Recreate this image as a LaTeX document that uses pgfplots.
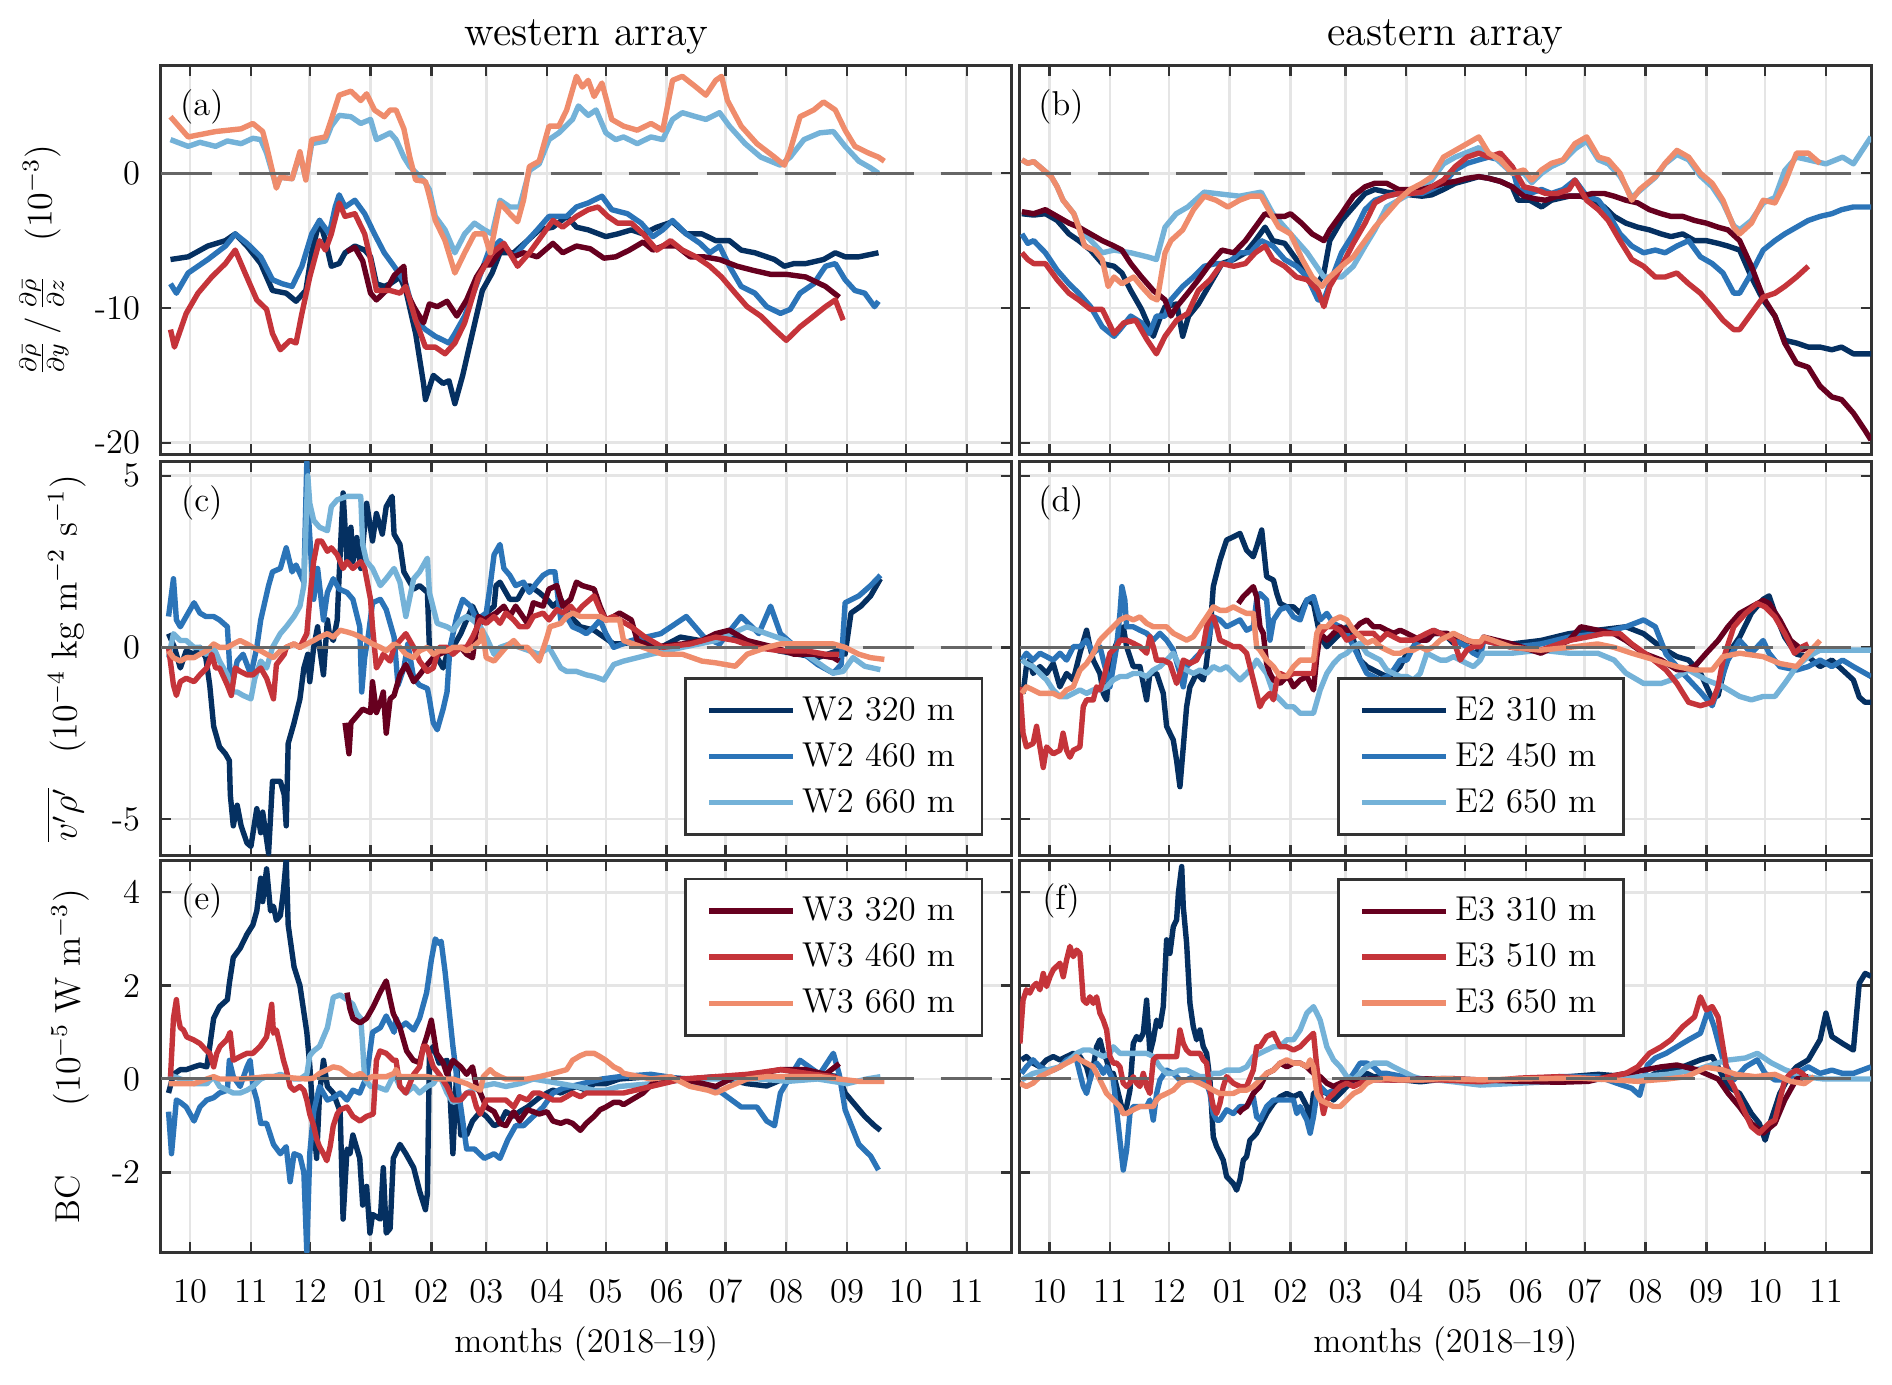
\documentclass[border=0pt]{standalone}
\usepackage{pgfplots}
\pgfplotsset{compat=1.18}
\definecolor{cA}{HTML}{053061}
\definecolor{cB}{HTML}{2B74B8}
\definecolor{cC}{HTML}{74B2D8}
\definecolor{cD}{HTML}{67001F}
\definecolor{cE}{HTML}{C5343A}
\definecolor{cF}{HTML}{EF8C6C}
\newcommand{\fs}{\fontsize{11.5}{14}\selectfont}
\newcommand{\ft}{\fontsize{14}{17}\selectfont}
\pgfplotsset{
  panel/.style={scale only axis, width=283.7pt, xmin=-15, xmax=419,
    xtick={0,31,61,92,123,151,182,212,243,273,304,335,365,396},
    xticklabels={},
    grid=major, major grid style={line width=0.9pt, color=black!10},
    axis line style={line width=1pt, draw=black!80},
    tick style={line width=0.8pt, color=black!80},
    major tick length=3.5pt,
    tick label style={font=\fs},
    label style={font=\fs},
    title style={font=\ft, anchor=base, yshift=0.6pt},
    xticklabel style={anchor=base, yshift=-16.7pt},
    yticklabel style={anchor=east, inner sep=0pt, xshift=-6.7pt},
    xlabel style={at={(axis description cs:0.5,0)}, anchor=base, yshift=-33.3pt},
    legend cell align=left,
    legend image code/.code={\draw[##1] (0pt,0pt) -- (28pt,0pt);},
    legend style={anchor=center, draw=black!80, line width=0.9pt, fill=white, font=\fs,
      inner xsep=7pt, inner ysep=4pt, row sep=2pt,
      /tikz/every even column/.append style={column sep=6pt}},
  },
  rowA/.style={height=129.77pt, ymin=-20.91, ymax=7.99, ytick={-20,-10,0}},
  rowC/.style={height=131.1pt, ymin=-6.05, ymax=5.41, ytick={-5,0,5}},
  rowE/.style={height=130.9pt, ymin=-3.72, ymax=4.69, ytick={-2,0,2,4}},
  sA/.style={color=cA, line width=1.8pt, line join=round},
  sB/.style={color=cB, line width=1.8pt, line join=round},
  sC/.style={color=cC, line width=1.8pt, line join=round},
  sD/.style={color=cD, line width=1.8pt, line join=round},
  sE/.style={color=cE, line width=1.8pt, line join=round},
  sF/.style={color=cF, line width=1.8pt, line join=round},
  zl/.style={forget plot, color=black!60, line width=1pt, dash pattern=on 17pt off 9pt},
}
\begin{document}
\begin{tikzpicture}
\useasboundingbox (0pt,0pt) rectangle (630.67pt,461.33pt);
%% (a)
\begin{axis}[panel, rowA, at={(53.57pt,309.67pt)}, anchor=south west,
  yticklabels={-20,-10,0}, title={western array},
  ylabel={$\frac{\partial\bar{\rho}}{\partial y}\,\big/\,\frac{\partial\bar{\rho}}{\partial z}$\quad$(10^{-3})$},
  ylabel style={at={(axis description cs:-0.1371,0.5)}, anchor=center}]
\addplot[sA] coordinates {(-10,-6.4) (-1,-6.2) (9,-5.4) (18,-5.0) (23,-4.5) (29,-5.4) (36,-6.7) (42,-8.7) (49,-8.9) (54,-9.5) (59,-8.7) (62,-5.9) (66,-3.5) (69,-5.0) (72,-6.9) (76,-6.7) (79,-5.9) (84,-5.4) (89,-5.7) (92,-6.2) (95,-8.2) (99,-8.4) (102,-8.2) (107,-7.7) (110,-8.7) (115,-11.9) (119,-15.6) (120,-16.8) (124,-15.0) (129,-15.6) (132,-15.4) (135,-17.1) (139,-15.0) (142,-13.1) (149,-8.7) (154,-7.4) (158,-5.9) (165,-5.9) (172,-5.0) (178,-4.2) (185,-4.0) (192,-3.2) (197,-4.0) (203,-4.2) (212,-4.7) (218,-4.5) (225,-4.2) (231,-4.5) (238,-4.0) (246,-3.6) (253,-4.5) (261,-4.5) (268,-5.0) (275,-5.0) (281,-5.7) (288,-5.9) (298,-6.4) (303,-6.9) (308,-6.7) (314,-6.7) (323,-6.4) (329,-5.9) (334,-6.2) (341,-6.2) (351,-5.9)};
\addplot[sB] coordinates {(-10,-8.2) (-7,-8.9) (-1,-7.4) (9,-6.4) (18,-5.4) (23,-4.5) (29,-5.2) (36,-6.2) (42,-7.9) (47,-8.2) (52,-8.4) (57,-6.9) (62,-4.5) (66,-3.5) (71,-4.5) (74,-2.5) (76,-1.6) (79,-2.5) (84,-2.0) (89,-3.0) (94,-4.5) (99,-5.9) (104,-6.9) (110,-8.2) (115,-10.9) (120,-11.6) (125,-12.1) (132,-12.6) (135,-11.9) (140,-10.6) (147,-7.9) (152,-5.9) (158,-5.0) (165,-6.2) (172,-5.0) (177,-4.2) (183,-3.2) (192,-3.2) (197,-2.5) (203,-2.2) (210,-1.7) (215,-2.7) (223,-3.0) (230,-3.7) (236,-4.7) (241,-4.2) (246,-3.5) (253,-4.5) (260,-5.2) (265,-5.9) (270,-5.4) (275,-6.9) (281,-8.4) (288,-8.9) (294,-9.9) (301,-10.4) (306,-10.1) (311,-8.9) (318,-8.2) (324,-6.9) (329,-6.7) (334,-7.9) (339,-8.7) (344,-8.9) (349,-9.9) (351,-9.5)};
\addplot[sC] coordinates {(-10,2.5) (-1,2.0) (5,2.3) (13,2.0) (19,2.4) (26,2.2) (32,2.6) (36,2.5) (39,1.5) (44,-1.0) (46,-0.3) (52,-0.4) (56,1.4) (59,-0.4) (62,2.2) (69,2.4) (72,3.5) (76,4.3) (82,4.2) (87,3.7) (92,4.0) (95,2.5) (102,3.0) (105,2.5) (109,1.2) (112,0.5) (119,-0.5) (122,-1.2) (125,-3.2) (130,-4.2) (135,-5.9) (140,-4.5) (145,-3.7) (150,-4.2) (154,-4.5) (158,-2.0) (163,-2.5) (168,-2.5) (173,0.2) (178,0.7) (183,2.5) (188,3.0) (195,4.0) (198,5.0) (203,4.3) (207,4.7) (212,3.0) (217,2.5) (221,2.7) (228,2.2) (235,2.7) (241,2.5) (246,4.0) (251,4.5) (258,4.2) (263,4.0) (270,4.5) (275,3.5) (283,2.2) (291,1.2) (301,0.6) (306,1.2) (313,2.5) (321,3.0) (328,3.1) (334,2.0) (341,0.9) (347,0.4) (351,0)};
\addplot[sD] coordinates {(80,-5.8) (84,-5.5) (88,-6.5) (92,-8.9) (95,-9.4) (100,-8.7) (104,-7.6) (109,-6.9) (110,-8.7) (114,-9.9) (119,-11.1) (122,-9.7) (126,-9.9) (131,-9.5) (136,-10.6) (141,-9.4) (146,-7.7) (150,-6.8) (153,-6.8) (156,-6.2) (160,-5.4) (165,-6.2) (170,-5.9) (177,-6.2) (185,-5.2) (190,-5.9) (197,-5.4) (204,-5.6) (211,-6.3) (217,-6.2) (224,-5.7) (231,-5.1) (236,-5.7) (241,-5.4) (248,-5.4) (255,-6.2) (262,-6.2) (270,-6.4) (279,-6.9) (287,-7.2) (296,-7.5) (304,-7.5) (314,-7.7) (324,-8.4) (331,-9.2)};
\addplot[sE] coordinates {(-10,-11.6) (-8,-12.9) (-2,-10.4) (4,-8.9) (11,-7.7) (18,-6.7) (23,-5.7) (28,-7.4) (34,-9.4) (39,-10.1) (42,-11.9) (46,-13.1) (51,-12.4) (54,-12.6) (57,-10.4) (61,-7.7) (66,-5.0) (69,-5.7) (72,-4.5) (76,-2.2) (79,-3.2) (84,-3.0) (89,-4.5) (92,-6.4) (95,-8.7) (102,-8.7) (107,-8.9) (110,-8.4) (115,-10.9) (120,-12.9) (125,-12.9) (130,-13.4) (135,-12.6) (140,-11.1) (147,-7.7) (154,-5.9) (160,-5.2) (167,-6.9) (173,-5.9) (180,-4.5) (185,-3.5) (190,-4.0) (197,-3.2) (203,-2.7) (208,-2.5) (213,-3.2) (218,-3.7) (225,-3.7) (231,-4.5) (238,-5.7) (245,-5.0) (251,-5.7) (258,-6.2) (265,-6.9) (271,-7.7) (278,-8.9) (284,-9.9) (291,-10.6) (298,-11.6) (304,-12.4) (311,-11.4) (318,-10.6) (324,-9.9) (329,-9.4) (333,-10.9)};
\addplot[sF] coordinates {(-10,4.2) (-1,2.7) (13,3.1) (26,3.3) (32,3.7) (37,3.1) (39,2.0) (44,-1.1) (46,-0.3) (52,-0.4) (56,1.6) (59,-0.5) (62,2.5) (69,2.7) (72,4.0) (76,5.8) (82,6.1) (87,5.4) (90,5.9) (94,4.7) (99,4.2) (102,4.7) (105,4.7) (109,3.3) (112,1.2) (115,-0.5) (120,-0.6) (122,-1.7) (125,-3.5) (130,-5.0) (135,-7.4) (140,-5.9) (145,-4.5) (150,-4.5) (153,-5.9) (158,-2.2) (163,-3.0) (167,-3.6) (170,-2.0) (173,0.5) (178,0.9) (183,3.5) (188,3.5) (192,4.7) (197,7.2) (200,6.4) (203,6.9) (206,5.7) (210,6.7) (215,4.0) (221,3.5) (228,3.2) (235,3.7) (241,3.2) (246,6.9) (251,7.2) (258,6.4) (263,5.8) (268,6.9) (271,7.2) (274,5.4) (281,3.5) (289,2.2) (298,1.2) (303,0.6) (306,1.7) (311,4.2) (318,4.7) (323,5.3) (329,4.7) (334,3.2) (339,2.0) (346,1.5) (351,1.2) (354,0.9)};
\addplot[zl] coordinates {(-15,0) (419,0)};
\node[font=\fs, xshift=13.7pt, yshift=-13.7pt] at (rel axis cs:0,1) {(a)};
\end{axis}
%% (b)
\begin{axis}[panel, rowA, at={(339.97pt,309.67pt)}, anchor=south west,
  yticklabels={}, title={eastern array}]
\addplot[sA] coordinates {(-14,-3.0) (-8,-3.1) (-2,-3.0) (4,-3.5) (10,-4.5) (15,-5.0) (21,-5.7) (27,-6.7) (33,-6.9) (37,-7.4) (41.5,-8.7) (47,-10.1) (50,-11.1) (53,-12.1) (56,-10.9) (59,-9.9) (65,-9.7) (68,-12.1) (71,-10.6) (76,-9.7) (82,-8.2) (88,-6.7) (94,-6.4) (100,-5.9) (105,-5.0) (110,-4.0) (114,-5.0) (120,-5.2) (126,-6.4) (131.5,-7.7) (136,-8.4) (140,-7.4) (143,-5.0) (149,-3.5) (155,-2.5) (161,-1.5) (166,-1.2) (172,-1.4) (178,-1.5) (184,-1.6) (190,-1.7) (195,-1.6) (201,-1.2) (207,-0.74) (213,-0.5) (219,-0.25) (224,-0.37) (230,-0.6) (236,-1.0) (239,-2.0) (245,-2.0) (251,-2.5) (256,-2.0) (265,-1.7) (271,-1.7) (277,-2.0) (283,-2.5) (288,-3.2) (294,-3.7) (300,-4.0) (306,-4.2) (312,-4.5) (317,-4.7) (323,-4.5) (329,-5.0) (335,-5.0) (341,-5.2) (346,-5.4) (352,-5.7) (358,-7.7) (364,-9.4) (370,-10.6) (375,-12.4) (381,-12.6) (387,-12.9) (393,-12.9) (399,-13.1) (404,-12.9) (410,-13.4) (419,-13.4)};
\addplot[sB] coordinates {(-14,-4.5) (-11,-5.2) (-8,-5.0) (-2,-5.9) (4,-7.2) (10,-8.2) (15,-8.9) (21,-9.9) (27,-11.4) (33,-12.1) (36,-11.6) (41.5,-10.6) (47,-11.1) (51,-11.9) (54.6,-10.6) (59,-10.6) (62,-9.4) (68,-8.4) (73.5,-7.7) (79,-6.9) (85,-6.7) (91,-6.7) (97,-5.9) (102.5,-5.9) (108,-5.0) (114,-5.4) (120,-6.4) (126,-6.9) (131.5,-7.7) (137,-9.4) (140,-9.4) (143,-8.2) (149,-5.9) (155,-4.5) (161,-2.7) (166,-2.0) (172,-1.7) (178,-1.5) (184,-1.5) (190,-1.5) (195,-1.2) (201,-0.74) (207,0.25) (213,0.74) (219,1.0) (224,1.2) (230,1.0) (236,0.5) (239,-1.2) (245,-1.5) (251,-1.2) (256,-1.5) (262,-1.2) (268,-0.5) (274,-1.7) (280,-2.0) (285,-3.0) (291,-4.5) (297,-5.4) (303,-5.9) (309,-5.7) (314,-5.9) (320,-5.4) (326,-5.0) (332,-6.2) (338,-6.7) (343.5,-7.4) (349,-8.9) (352,-8.9) (358,-7.4) (364,-5.7) (370,-5.0) (375,-4.5) (381,-4.0) (387,-3.5) (393,-3.2) (399,-3.0) (404,-2.7) (410,-2.5) (419,-2.5)};
\addplot[sC] coordinates {(-14,1.0) (-11,0.74) (-8,0.87) (-5,0.5) (1,-0.25) (4,-1.0) (7,-2.0) (12.5,-3.0) (15,-4.0) (18,-4.5) (27,-5.9) (33,-5.7) (41.5,-5.9) (50,-6.2) (54.6,-6.4) (59,-4.0) (64.7,-3.0) (70.6,-2.5) (79,-1.4) (85,-1.5) (97,-1.7) (108,-1.4) (114,-3.0) (123,-4.5) (131.5,-5.9) (140,-7.7) (149,-7.7) (155,-6.9) (161,-5.4) (166,-4.2) (172,-2.5) (178,-2.0) (184,-1.5) (190,-1.0) (195,-0.5) (201,0.7) (207,1.2) (219,1.9) (227,1.2) (236,0) (242,0) (246,-0.7) (251,0) (256,0.5) (262,0.9) (268,1.8) (274,2.4) (280,1.0) (285,0.7) (291,-0.2) (297,-1.8) (301,-1.3) (309,-0.3) (314,0.7) (320,1.4) (326,1.0) (332,-0.2) (338,-1.0) (343.5,-2.2) (349,-3.9) (352,-4.2) (358,-3.5) (364,-2.2) (370,-1.8) (375,0.2) (381,1.2) (387,1.0) (396,0.7) (404.5,1.2) (410,0.7) (419,2.7)};
\addplot[sD] coordinates {(-14,-2.85) (-8,-3.0) (-2,-2.7) (4,-3.2) (10,-3.7) (15,-4.0) (21,-4.5) (27,-5.0) (33,-5.4) (37,-5.7) (41.5,-6.7) (47,-7.7) (53,-8.7) (59,-9.4) (62,-10.6) (65,-9.9) (70.6,-8.9) (76,-7.9) (82,-6.7) (88,-5.7) (94,-5.9) (100,-5.0) (105,-4.0) (110,-3.0) (114,-3.2) (120,-3.2) (123,-3.0) (128.6,-3.7) (134,-4.5) (140,-5.0) (143,-4.2) (149,-3.0) (155,-1.7) (161,-1.0) (166,-0.74) (172,-0.74) (178,-1.2) (184,-1.2) (190,-1.2) (195,-1.0) (201,-0.74) (207,-0.6) (213,-0.37) (219,-0.25) (224,-0.37) (230,-0.6) (236,-1.0) (242,-1.7) (248,-1.9) (253,-2.0) (259,-1.7) (265,-1.7) (271,-1.7) (277,-1.5) (283,-1.5) (288,-1.7) (294,-2.0) (300,-2.2) (306,-2.7) (312,-3.0) (317,-3.2) (323,-3.2) (329,-3.5) (335,-3.7) (341,-4.0) (346,-4.2) (352,-5.0) (358,-6.9) (364,-9.2) (370,-10.6) (375,-12.6) (381,-14.1) (387,-14.4) (393,-15.8) (399,-16.6) (404,-16.8) (410,-17.8) (416,-19.1) (419,-19.8)};
\addplot[sE] coordinates {(-14,-5.9) (-11,-6.4) (-8,-6.7) (-2,-6.7) (4,-7.9) (10,-8.9) (15,-9.4) (21,-10.1) (27,-10.1) (33,-11.9) (38,-11.1) (44,-10.9) (50,-12.4) (54.6,-13.4) (59,-12.1) (65,-10.9) (70.6,-10.4) (76,-8.7) (82,-7.9) (88,-6.7) (94,-6.9) (100,-6.7) (105,-5.9) (110,-5.4) (114,-6.4) (120,-6.9) (126,-7.7) (131.5,-7.9) (137,-8.7) (140,-9.9) (143,-8.4) (149,-6.9) (155,-5.2) (161,-3.7) (166,-2.2) (172,-1.7) (178,-1.5) (184,-1.5) (190,-1.4) (195,-1.0) (201,-0.5) (207,0.5) (213,1.2) (219,1.5) (224,1.2) (230,1.5) (236,0.5) (242,-1.0) (248,-1.2) (253,-1.5) (259,-1.5) (265,-1.2) (268,-0.5) (274,-2.0) (280,-2.7) (285,-3.5) (291,-5.0) (297,-6.4) (303,-6.9) (309,-7.7) (314,-7.7) (320,-7.4) (326,-8.2) (332,-8.9) (338,-9.9) (343.5,-10.9) (349,-11.6) (352,-11.6) (358,-10.4) (364,-9.2) (370,-8.9) (375,-8.4) (381,-7.7) (387,-6.9)};
\addplot[sF] coordinates {(-14,1.0) (-11,0.74) (-8,0.87) (-5,0.5) (1,-0.25) (4,-1.0) (7,-2.0) (12.5,-3.0) (15,-4.0) (18,-5.4) (23,-5.7) (27,-6.4) (30,-8.4) (33,-7.7) (37,-8.2) (43,-7.7) (47,-8.4) (52,-9.2) (55,-9.4) (59,-5.9) (62,-5.0) (68,-4.2) (73.5,-2.7) (79,-1.7) (85,-2.0) (91,-2.5) (97,-2.0) (102.5,-1.7) (108,-1.7) (111,-2.5) (117,-4.0) (123,-4.5) (129,-6.4) (134,-7.7) (139,-8.4) (143,-7.7) (149,-6.9) (155,-6.2) (161,-5.0) (166,-4.0) (172,-3.0) (178,-2.0) (184,-1.2) (190,-0.74) (195,-0.25) (201,1.2) (207,1.7) (213,2.2) (219,2.7) (224,1.5) (230,1.0) (236,0) (242,0.25) (246,-0.5) (251,0.25) (256,0.74) (262,1.0) (268,2.2) (274,2.7) (280,1.2) (285,1.0) (291,0) (297,-2.0) (301,-1.2) (309,-0.25) (314,0.74) (320,1.7) (326,1.2) (332,0) (338,-0.74) (343.5,-2.0) (349,-4.0) (352,-4.5) (358,-3.7) (364,-2.0) (370,-2.2) (375,-0.74) (381,1.5) (387,1.5) (393,0.74)};
\addplot[zl] coordinates {(-15,0) (419,0)};
\node[font=\fs, xshift=13.7pt, yshift=-13.7pt] at (rel axis cs:0,1) {(b)};
\end{axis}
%% (c)
\begin{axis}[panel, rowC, at={(53.57pt,176.33pt)}, anchor=south west,
  yticklabels={-5,0,5},
  ylabel={$\overline{v'\rho'}$\quad$(10^{-4}\ \mathrm{kg}\ \mathrm{m}^{-2}\ \mathrm{s}^{-1})$},
  ylabel style={at={(axis description cs:-0.111,0.5)}, anchor=center},
  legend style={at={(axis description cs:0.791,0.25)}}]
\addplot[sA] coordinates {(-11,0.4) (-8,0) (-5,-0.6) (-2,-0.1) (2,-0.2) (5,0) (8,-0.3) (10,-1.1) (12,-2.3) (14,-2.7) (15,-2.9) (18,-3.1) (20,-3.3) (20.5,-4.3) (22,-5.2) (24,-4.6) (26,-5.2) (29,-5.7) (31,-5.8) (34,-4.7) (36,-5.4) (37,-4.8) (40,-6.0) (42,-3.9) (46,-3.9) (48,-4.3) (49,-5.2) (50,-2.8) (53,-2.2) (56,-1.5) (58,-0.6) (60,-0.2) (61,-1.0) (63,0) (65,0.6) (66,0) (68,-0.8) (70,0.8) (71,0.4) (73,0.2) (75,0.8) (76,2.1) (78,4.5) (80,2.5) (82,3.5) (83,2.5) (85,3.2) (87,2.3) (90,4.2) (93,3.1) (95,3.9) (98,3.3) (100,4.1) (103,4.4) (104,3.3) (107,3.0) (109,2.2) (110,2.1) (114,1.7) (117,1.8) (121,1.6) (122,0) (126,-0.3) (129,-0.6) (131,-0.2) (134,0) (138,0.4) (141,0.8) (144,1.2) (148,0.7) (151,1.0) (155,1.2) (156,1.8) (158,1.9) (161,1.6) (163,1.4) (167,1.4) (170,1.7) (173,1.8) (178,1.6) (182,1.4) (185,1.2) (189,1.4) (194,0.9) (199,0.6) (206,0.5) (211,0.3) (216,0.1) (220,0.1) (230,0.2) (240,0) (250,0.3) (260,0.2) (270,0.4) (280,0.2) (290,0.1) (300,-0.1) (310,-0.2) (320,-0.3) (330,-0.1) (334,-0.2) (337,1.0) (342,1.2) (347,1.5) (352,2.0)};
\addplot[sB] coordinates {(-11,0.9) (-8.5,2.0) (-7,0.8) (-5,0.6) (-2,0.9) (2,1.3) (5,1.0) (8,0.9) (12,0.9) (15,0.8) (19,0.6) (20,-0.4) (21,-1.2) (24,-0.4) (27,-0.2) (31,-0.8) (34,0) (36,0.8) (40,1.8) (42,2.2) (46,2.3) (49,2.9) (52,2.2) (54,2.4) (58,1.9) (59.5,5.4) (60.5,3.7) (63,1.4) (65,2.3) (68,0.8) (70,1.6) (73,2.0) (76,1.7) (80,1.6) (83,1.4) (86.5,0.6) (87.5,-1.3) (89,-0.3) (91,0.4) (93,1.3) (97,1.4) (100,1.1) (104,0.3) (106,-1.1) (109,-0.6) (111,0.1) (114,-0.9) (117,-1.1) (121,-1.2) (122,-1.5) (124,-2.2) (126,-2.4) (129,-1.8) (131,-1.3) (132.5,0) (136,0.9) (139,1.4) (143,1.2) (146,0.8) (151,1.0) (153,1.8) (155,2.7) (158,3.0) (160,2.3) (163,2.1) (166,1.8) (170,1.9) (173,1.6) (177,1.9) (180,2.1) (183,2.2) (186,2.2) (189,0.8) (192,0.9) (195,0.6) (199,0.5) (202,0.4) (206,0.6) (209,0.8) (212,0.4) (216,0) (225,0.2) (240,0.4) (253,0.9) (262,0.3) (270,0.1) (281,0.9) (290,0.4) (296,1.2) (301,0.4) (311,-0.1) (320,-0.5) (328,-0.75) (332,-0.5) (334,1.3) (341,1.5) (347,1.8) (352,2.1)};
\addplot[sC] coordinates {(-11,-0.3) (-8.5,0.4) (-5,0.2) (-2,0.2) (2,0) (5,0) (8,-0.2) (12,0) (15,-0.4) (19,-0.8) (21,-1.3) (24,-1.3) (27,-1.4) (31,-1.5) (33,-0.9) (36,-0.4) (39,-0.6) (42,0) (46,0.4) (49,0.6) (53,0.9) (56,1.2) (58,1.8) (60,5.0) (61,4.2) (63,3.7) (66,3.5) (70,3.4) (72,4.1) (75,4.3) (80,4.4) (83,4.4) (87,4.4) (88,3.0) (90,2.5) (93,2.3) (97,1.8) (100,2.0) (104,2.3) (107,1.9) (110,0.9) (114,2.0) (117,2.2) (121,2.6) (122,1.6) (126,0.7) (131,0.6) (134,0.5) (138,0.8) (141,0.9) (144,0.8) (148,0.6) (151,0.3) (155,-0.2) (158,0) (163,0.1) (168,0) (173,-0.1) (178,-0.2) (183,0) (187,-0.4) (189,-0.6) (192,-0.7) (197,-0.7) (202,-0.8) (206,-0.85) (211,-0.95) (216,-0.5) (221,-0.4) (235,-0.2) (251,0) (268,0.2) (284,0.6) (294,0.4) (304,0.2) (314,-0.2) (324,-0.6) (328,-0.75) (333,-0.7) (338,-0.3) (344,-0.55) (352,-0.65)};
\addplot[sD, forget plot] coordinates {(79,-2.2) (81,-3.1) (82,-2.2) (85,-2.0) (88,-1.8) (92,-1.9) (93,-1.0) (95,-1.9) (97,-1.6) (98.5,-1.3) (100,-2.5) (102,-1.5) (104,-1.4) (105,-1.2) (107,-0.8) (110,-0.5) (114,-1.0) (117,-0.8) (121,-0.5) (124,-0.3) (127,-0.2) (131,-0.1) (134,-0.1) (138,0) (141,-0.2) (144,-0.3) (147,0.9) (150,0.8) (153,0.9) (156,1.0) (160,1.2) (163,0.9) (166,1.2) (172,0.7) (175,1.3) (180,1.2) (183,1.7) (187,1.8) (190,1.2) (194,1.4) (197,1.9) (200,1.8) (206,1.7) (209,1.2) (212,0.8) (216,0.9) (219,1.0) (225,0.8) (228,0.2) (235,0) (251,0.1) (261,0.2) (268,0.4) (275,0.5) (284,0.2) (298,0) (308,-0.2) (318,-0.2) (328,-0.3) (331,-0.4)};
\addplot[sE, forget plot] coordinates {(-11,0) (-8.5,-1.1) (-7,-1.4) (-5,-1.0) (-2,-0.9) (2,-1.0) (5,-0.8) (8.5,-0.6) (11,-0.2) (13,-0.6) (15,-0.6) (19,-1.1) (21,-1.4) (23,-0.6) (25.5,-0.7) (29,-0.8) (32,-0.8) (36,-0.6) (39,-0.9) (42.5,-1.5) (44,-0.5) (48,-0.2) (49,0) (53,0.1) (56,0) (59.5,0.4) (61,1.4) (63,2.5) (65,3.1) (67,3.1) (70,2.8) (72,2.9) (75,2.7) (78,2.3) (80,2.5) (83,2.3) (87,2.5) (89,2.3) (92,1.4) (93,0.6) (95,-0.6) (97,-0.4) (98.5,-0.2) (102,-0.4) (104,0) (107,0.2) (110,0.4) (114,0) (117,-0.4) (121,-0.7) (124,-0.6) (127,0) (131,0) (134,-0.2) (138,0) (141,0) (144,0.3) (148,0.8) (151,0.7) (155,0.9) (158,0.7) (161,1.0) (165,0.8) (168,0.6) (172,0.6) (175,0.9) (180,1.0) (183,0.8) (187,1.1) (190,1.0) (194,1.2) (197,1.0) (200,1.2) (204,1.4) (206,1.5) (209,1.1) (212,0.8) (216,0.9) (219,0.8) (225,0.6) (232,0.3) (241,0) (255,0.1) (268,0.3) (278,0.2) (288,0) (301,-0.1) (314,-0.1) (324,-0.2) (331,-0.2)};
\addplot[sF, forget plot] coordinates {(-11,-0.1) (-8.5,-0.3) (-5,-0.4) (-2,-0.3) (2,-0.3) (5,-0.2) (8.5,-0.1) (12,0.1) (15,0) (19,0) (22,0.1) (25.5,0.2) (29,0.1) (32,0) (36,-0.1) (39,-0.2) (42.5,-0.3) (46,-0.1) (49,0) (53,0.1) (56,0) (59.5,0.1) (63,0.2) (66,0.3) (70,0.4) (73,0.3) (76.5,0.5) (80,0.45) (83,0.4) (87,0.3) (90,0.2) (93,0.1) (97,0) (100,-0.1) (104,0.1) (107,0) (110,-0.2) (114,-0.3) (117,-0.1) (121,0) (124,-0.2) (127,-0.1) (131,-0.1) (134,0) (138,0) (141,-0.1) (144,0) (148,0.2) (149,0.5) (151,-0.3) (155,-0.4) (158,-0.2) (161,0) (165,0.2) (168,0) (172,0) (175,-0.2) (178,-0.4) (182,0.3) (183.5,0.6) (189,0.7) (192,0.9) (195,1.0) (199,0.9) (202,0.9) (206,0.9) (209,0.9) (212,0.8) (216,0.8) (219,0.8) (221,0.2) (231,0) (241,-0.2) (251,-0.2) (261,-0.4) (268,-0.45) (278,-0.55) (284,-0.2) (294,0) (301,0.1) (314,0.1) (328,0.1) (334,0) (341,-0.2) (347,-0.3) (354,-0.35)};
\addplot[zl] coordinates {(-15,0) (419,0)};
\node[font=\fs, xshift=13.7pt, yshift=-13.7pt] at (rel axis cs:0,1) {(c)};
\legend{W2 320 m, W2 460 m, W2 660 m}
\end{axis}
%% (d)
\begin{axis}[panel, rowC, at={(339.97pt,176.33pt)}, anchor=south west,
  yticklabels={},
  legend style={at={(axis description cs:0.5417,0.25)}}]
\addplot[sA] coordinates {(-13.4,-1.34) (-11.7,-0.56) (-10,-0.37) (-8.3,-0.76) (-4.8,-0.56) (-1.4,-0.76) (2,-0.47) (5.4,-1.15) (8.8,-0.76) (12.2,-0.95) (15.6,-0.17) (19,0.5) (20.7,0.02) (22.4,-0.37) (25.8,-0.76) (27.5,-1.34) (29.2,-1.53) (30.9,-0.37) (34.3,0.12) (37.7,0.6) (39.4,0.02) (42.8,-0.56) (46.2,-0.56) (49.6,-1.53) (51.3,-0.76) (54.7,-0.76) (58.1,-1.34) (59.8,-2.3) (63.2,-2.7) (64.9,-3.3) (66.6,-4.06) (68.3,-2.9) (70,-1.73) (71.7,-1.15) (75.1,-0.76) (78.5,-0.95) (79.9,-0.56) (81.9,0.41) (83.6,1.77) (87,2.54) (90.4,3.13) (93.8,3.22) (97.2,3.32) (100.6,2.83) (104,2.64) (105.7,2.93) (108.3,3.42) (110.8,2.06) (114.3,1.96) (116,1.57) (117.7,1.28) (121.1,1.18) (124.5,1.18) (127.9,0.99) (131.3,1.38) (134.7,1.28) (138.1,0.31) (141.5,0.02) (144.9,0.21) (148.3,0.41) (151.7,0.6) (155.1,0.21) (158.5,-0.37) (161.9,-0.56) (165.3,-0.66) (168.7,-0.76) (172.1,-0.85) (175.5,-0.76) (178.9,-0.56) (182.3,-0.17) (185.7,0.02) (189.1,0.31) (192.5,0.21) (195.9,0.41) (199.3,0.41) (202.7,0.31) (206.1,0.12) (209.5,0.21) (212.9,0.02) (216.3,-0.17) (219.7,-0.08) (221.5,0.2) (236,0.1) (250.6,0.2) (265,0.4) (279.6,0.5) (294,0.6) (303,0.4) (312,0) (320,-0.27) (326,-0.37) (332,-0.75) (338,-1.5) (341,-1.4) (346,-0.2) (352,0.3) (358,1.0) (364,1.4) (367,1.5) (370,1.0) (375,0.3) (381,-0.2) (387,-0.27) (393,-0.56) (399,-0.37) (404.5,-0.66) (410,-0.95) (413,-1.45) (416,-1.6) (419,-1.6)};
\addplot[sB] coordinates {(-14,-0.37) (-11.7,-0.17) (-8.3,-0.37) (-4.8,-0.17) (-1.4,-0.27) (2,-0.37) (5.4,-0.17) (8.8,-0.37) (12.2,0.02) (15.6,0.02) (19,0.21) (20.7,0.02) (22.4,-0.17) (25.8,0.02) (29.2,-0.76) (30.9,-1.15) (34.3,0.02) (36,0.99) (37,1.77) (38.5,1.38) (39.4,0.6) (42.8,0.6) (46.2,0.5) (49.6,0.41) (53,0.21) (56.4,0.41) (59.8,0.21) (63.2,-0.08) (66.6,-0.76) (68.3,-1.15) (70,-0.56) (73.4,-0.37) (76.8,-0.17) (80.2,0.02) (83.6,0.89) (87,0.8) (90.4,0.6) (93.8,0.7) (97.2,0.8) (100.6,0.5) (104,0.6) (105.7,1.38) (107.4,1.57) (110.8,1.38) (112.5,0.21) (114.3,0.8) (117.7,1.1) (121.1,1.18) (124.5,0.89) (127.9,0.8) (131.3,1.38) (134.7,1.48) (138.1,0.8) (141.5,0.99) (144.9,0.7) (148.3,0.6) (151.7,0.41) (155.1,0.02) (158.5,-0.37) (161.9,-0.76) (165.3,-0.85) (168.7,-0.95) (172.1,-0.85) (175.5,-0.66) (178.9,-0.37) (182.3,-0.37) (185.7,0.02) (189.1,0.21) (192.5,0.31) (195.9,0.5) (199.3,0.41) (202.7,0.31) (206.1,0.31) (209.5,0.12) (212.9,0.02) (216.3,-0.17) (219.7,-0.27) (221.5,0.2) (236,0) (250.6,0.1) (265,0.3) (279.6,0.4) (294,0.6) (303,0.8) (309,0.6) (314.5,-0.2) (323,-0.75) (332,-1.3) (338,-1.7) (341,-1.2) (346,-0.37) (352,0.2) (358,-0.17) (364,0.2) (367,-0.17) (372.5,-0.56) (381,-0.66) (387,-0.56) (393,-0.37) (399,-0.56) (404.5,-0.37) (410,-0.56) (419,-0.85)};
\addplot[sC] coordinates {(-14,-0.37) (-11.7,-0.47) (-8.3,-0.56) (-4.8,-0.76) (-1.4,-0.95) (2,-1.24) (5.4,-1.44) (8.8,-1.44) (12.2,-1.34) (15.6,-1.24) (19,-1.34) (22.4,-1.24) (25.8,-1.24) (29.2,-1.15) (32.6,-0.95) (36,-0.85) (39.4,-0.85) (42.8,-0.76) (46.2,-0.76) (49.6,-0.85) (53,-0.66) (56.4,-0.56) (59.8,-0.37) (63.2,-0.17) (66.6,-0.56) (70,-0.66) (73.4,-0.76) (76.8,-0.66) (80.2,-0.76) (83.6,-0.56) (87,-0.66) (90.4,-0.56) (93.8,-0.76) (97.2,-0.95) (100.6,-0.76) (104,-0.56) (105.7,-0.37) (110.8,-0.76) (114.3,-1.34) (117.7,-1.53) (121.1,-1.73) (124.5,-1.73) (127.9,-1.92) (131.3,-1.92) (134.7,-1.92) (138.1,-1.24) (141.5,-0.76) (144.9,-0.47) (148.3,-0.27) (151.7,-0.17) (155.1,0.02) (158.5,0.12) (161.9,-0.17) (165.3,-0.27) (168.7,-0.37) (172.1,-0.66) (175.5,-0.76) (178.9,-0.85) (182.3,-0.85) (185.7,-0.95) (189.1,-0.76) (192.5,-0.17) (195.9,-0.27) (199.3,-0.37) (202.7,-0.37) (206.1,-0.27) (209.5,-0.37) (212.9,-0.47) (216.3,-0.56) (219.7,-0.37) (221.5,-0.17) (236,-0.17) (250.6,-0.08) (265,-0.17) (279.6,-0.17) (288,-0.37) (294,-0.75) (303,-1.05) (312,-1.05) (317,-0.95) (326,-0.66) (335,-0.95) (343.5,-1.14) (352,-1.43) (358,-1.53) (364,-1.43) (370,-1.43) (375,-1.05) (381,-0.56) (387,-0.27) (393,-0.08) (399,-0.08) (404.5,-0.08) (410,-0.08) (419,-0.08)};
\addplot[sD, forget plot] coordinates {(96.4,1.28) (98.9,1.48) (102.3,1.67) (104,1.77) (105.7,1.48) (107.4,0.6) (109.1,0.41) (110.8,-0.47) (112.5,-0.76) (114.3,-0.95) (117.7,-1.05) (121.1,-0.85) (122.8,-0.95) (124.5,-1.15) (127.9,-0.95) (131.3,-0.85) (134.7,-1.24) (136.4,-0.27) (138.1,0.41) (141.5,0.21) (144.9,0.41) (148.3,0.6) (151.7,0.5) (155.1,0.5) (158.5,0.7) (161.9,0.8) (165.3,0.6) (168.7,0.6) (172.1,0.5) (175.5,0.41) (178.9,0.5) (182.3,0.41) (185.7,0.31) (189.1,0.21) (192.5,0.21) (195.9,0.41) (199.3,0.41) (202.7,0.41) (206.1,0.31) (209.5,0.31) (212.9,0.21) (216.3,0.12) (219.7,0.02) (221.5,0.3) (236,0.1) (250.6,-0.17) (265,0.2) (271,0.6) (279.6,0.5) (288,0.4) (294,0.2) (303,-0.17) (312,-0.37) (320,-0.65) (323,-0.65) (329,-0.56) (335,-0.17) (341,0.2) (346,0.6) (352,0.99) (358,1.18) (364,1.37) (367,1.28) (372.5,0.8) (378,0.2) (384,-0.08) (387,0.02)};
\addplot[sE, forget plot] coordinates {(-15,-1.15) (-13.4,-2.5) (-11.7,-2.9) (-8.3,-2.8) (-6.5,-2.3) (-4.8,-2.9) (-3.1,-3.5) (-1.4,-2.9) (2,-3.1) (5.4,-3.0) (7,-2.5) (8.8,-3.0) (10.5,-3.2) (12.2,-3.0) (15.6,-2.9) (17.3,-1.73) (19,-1.53) (22.4,-1.53) (24.1,-1.15) (25.8,-1.24) (27.5,-0.95) (29.2,-0.56) (30.9,-0.17) (34.3,0.02) (36,0.21) (39.4,0.21) (42.8,0.12) (46.2,0.02) (49.6,-0.17) (51.3,0.31) (53,0.02) (54.7,-0.37) (58.1,-0.37) (61.5,-0.47) (64.9,-1.05) (66.6,-0.76) (68.3,-0.37) (71.7,-0.47) (75.1,-0.37) (78.5,0.02) (80.2,0.6) (81.9,0.89) (83.6,0.89) (85.3,0.6) (87,0.21) (90.4,0.12) (93.8,0.02) (97.2,0.02) (100.6,-0.17) (104,-0.95) (105.7,-1.34) (107.4,-1.73) (109.1,-1.53) (112.5,-1.34) (114.3,-1.53) (116,-0.95) (117.7,-0.76) (121.1,-0.85) (124.5,-0.76) (127.9,-0.76) (131.3,-0.76) (134.7,-0.76) (136.4,0.12) (138.1,0.41) (141.5,0.6) (144.9,0.6) (148.3,0.5) (151.7,0.21) (155.1,0.31) (158.5,0.41) (161.9,0.41) (165.3,0.41) (168.7,0.21) (172.1,0.41) (175.5,0.31) (178.9,0.21) (182.3,0.21) (185.7,0.21) (189.1,0.31) (192.5,0.41) (195.9,0.5) (199.3,0.41) (202.7,0.31) (206.1,0.21) (209.5,-0.37) (212.9,-0.08) (216.3,0.02) (219.7,0.02) (221.5,0.2) (236,0) (250.6,-0.08) (265,0.2) (274,0.3) (282.5,0.4) (291,0.4) (297,0.1) (306,-0.27) (314.5,-0.66) (320,-1.05) (326,-1.6) (332,-1.7) (338,-1.6) (341,-1.14) (343.5,-0.37) (349,0.6) (355,0.99) (361,1.28) (365,1.18) (370,0.89) (375,0.4) (380,-0.17) (384,0.02) (387,0.1)};
\addplot[sF, forget plot] coordinates {(-14,-1.34) (-11.7,-1.15) (-8.3,-1.24) (-4.8,-1.34) (-1.4,-1.34) (2,-1.34) (5.4,-1.44) (8.8,-1.24) (12.2,-1.15) (15.6,-0.66) (19,-0.47) (22.4,-0.17) (25.8,0.21) (29.2,0.41) (32.6,0.6) (36,0.8) (39.4,0.89) (42.8,0.8) (46.2,0.89) (49.6,0.7) (53,0.6) (56.4,0.6) (59.8,0.6) (63.2,0.41) (66.6,0.31) (70,0.21) (73.4,0.31) (76.8,0.6) (80.2,0.89) (83.6,1.18) (87,1.08) (90.4,1.08) (93.8,1.18) (97.2,1.08) (100.6,0.99) (104,0.99) (105.7,0.02) (107.4,-0.08) (110.8,-0.37) (114.3,-0.56) (117.7,-0.85) (121.1,-0.85) (124.5,-0.56) (127.9,-0.37) (131.3,-0.37) (134.7,-0.37) (136.4,0.41) (138.1,0.6) (141.5,0.6) (144.9,0.8) (148.3,0.89) (151.7,0.8) (155.1,0.5) (158.5,0.31) (161.9,0.12) (165.3,0.21) (168.7,0.02) (172.1,-0.08) (175.5,-0.17) (178.9,-0.17) (182.3,-0.08) (185.7,-0.08) (189.1,0.02) (192.5,-0.08) (195.9,0.02) (199.3,0.21) (202.7,0.31) (206.1,0.41) (209.5,0.31) (212.9,0.21) (216.3,0.16) (219.7,0.16) (221.5,0.3) (236,0) (250.6,-0.08) (265,0) (279.6,0.1) (288,0) (297,-0.17) (309,-0.37) (320,-0.56) (329,-0.66) (338,-0.66) (343.5,-0.27) (352,-0.17) (364,-0.27) (372.5,-0.47) (381,-0.56) (387,-0.17) (393,0.2)};
\addplot[zl] coordinates {(-15,0) (419,0)};
\node[font=\fs, xshift=13.7pt, yshift=-13.7pt] at (rel axis cs:0,1) {(d)};
\legend{E2 310 m, E2 450 m, E2 650 m}
\end{axis}
%% (e)
\begin{axis}[panel, rowE, at={(53.57pt,43.77pt)}, anchor=south west,
  yticklabels={-2,0,2,4},
  xticklabels={10,11,12,01,02,03,04,05,06,07,08,09,10,11},
  xlabel={months (2018--19)},
  ylabel={BC\qquad$(10^{-5}\;\mathrm{W}\;\mathrm{m}^{-3})$},
  ylabel style={at={(axis description cs:-0.1065,0.5)}, anchor=center},
  legend style={at={(axis description cs:0.791,0.7525)}}]
\addplot[sA, forget plot] coordinates {(-11,-0.3) (-8.5,0.1) (-5,0.2) (-2,0.2) (2,0.26) (5,0.3) (8.5,0.26) (10,0.7) (12,1.3) (15,1.55) (19,1.7) (20,2.05) (22,2.6) (25.5,2.8) (29,3.1) (32,3.3) (34,3.6) (36,4.3) (37,3.8) (39,4.5) (41,3.6) (42.5,3.7) (44,3.4) (46,3.5) (47.5,4.0) (49,4.7) (50,3.3) (53,2.4) (56,2.0) (59.5,1.0) (61,0.3) (63,-1.0) (64.5,-1.7) (66,-0.3) (68,0.4) (70,-0.16) (73,-0.3) (76.5,-0.7) (78,-3.0) (80,-1.5) (81.5,-1.6) (83,-1.2) (86.5,-1.7) (88,-2.7) (90,-2.3) (91.7,-3.3) (93,-2.9) (97,-3.0) (98.5,-1.9) (100,-3.3) (102,-3.2) (103.6,-1.7) (107,-1.4) (110,-1.6) (114,-1.9) (117,-2.4) (120,-2.8) (121,-2.45) (122,0.55) (124,0.7) (127,0.34) (131,0.4) (132.5,-0.3) (134,-1.6) (136,0.26) (138,-1.2) (141,-1.2) (144,-0.9) (148,-0.7) (151,-0.8) (155,-1.0) (158,-0.95) (161,-0.7) (165,-0.8) (168,-0.7) (172,-0.6) (175,-0.5) (178,-0.4) (182,-0.3) (185,-0.24) (189,-0.3) (192,-0.24) (197,-0.16) (202,-0.24) (206,-0.1) (212,-0.1) (219,0) (235,0.05) (255,0) (268,0.05) (284,-0.1) (294,-0.15) (308,0.1) (321,0.1) (331,0.05) (334,-0.3) (338,-0.5) (344,-0.8) (349,-1.0) (352,-1.1)};
\addplot[sB, forget plot] coordinates {(-11,-0.7) (-9.5,-1.6) (-7,-0.45) (-5,-0.5) (-2,-0.6) (2,-0.9) (5,-0.6) (8.5,-0.45) (12,-0.4) (15,-0.3) (19,-0.24) (20,0.4) (22,0.05) (25.5,-0.16) (29,0.26) (30.6,0.4) (32,-0.16) (34,-0.45) (36,-0.95) (39,-0.95) (42.5,-1.4) (46,-1.6) (49,-1.45) (51,-2.2) (53,-1.6) (56,-1.65) (58,-2.0) (59.5,-3.7) (61,-1.6) (63,-0.7) (66,-0.16) (70,-0.45) (73,-0.4) (76.5,-0.3) (80,-0.45) (83,-0.24) (86.5,-0.3) (90,0.05) (93,1.0) (97,1.1) (100,1.35) (104,1.0) (105,1.3) (107,1.1) (110,1.2) (114,1.05) (117,1.3) (120.6,1.85) (123,2.55) (125,3.0) (127,2.9) (128,2.95) (130,2.3) (132,1.5) (134,0.7) (137,-0.3) (141,-1.5) (145,-1.5) (150,-1.7) (155,-1.6) (158,-1.7) (162,-1.3) (166,-1.0) (170,-1.0) (175,-0.8) (180,-0.6) (185,-0.3) (190,-0.2) (200,-0.1) (210,0) (219,0.05) (235,0.1) (251,0) (268,-0.2) (281,-0.6) (289,-0.6) (294,-0.9) (298,-1.0) (301,-0.3) (311,0.4) (321,0.1) (328,0.55) (331,0.1) (334,-0.66) (341,-1.4) (347,-1.65) (351,-1.95)};
\addplot[sC, forget plot] coordinates {(-11,0.1) (-5,0) (2,-0.1) (8.5,-0.1) (12,0.05) (15,-0.16) (19,-0.24) (22,-0.3) (25.5,-0.3) (29,-0.24) (32,-0.16) (36,0) (39,0.05) (42.5,0.05) (46,0.1) (49,0.05) (53,0) (56,0) (59.5,0.1) (61,0.5) (63,0.6) (66,0.7) (70,1.1) (73,1.75) (76.5,1.8) (80,1.7) (83,1.6) (85,1.4) (87,1.3) (88,0.7) (89,0) (92,-0.16) (95,-0.16) (100,-0.24) (104,0.1) (107,-0.16) (110,-0.3) (114,-0.16) (117,-0.3) (121,-0.16) (124,-0.1) (127,0.1) (131,-0.3) (134,-0.5) (138,-0.45) (141,-0.3) (144,-0.24) (148,-0.16) (155,-0.1) (161,-0.16) (168,-0.1) (175,0) (189,-0.1) (197,-0.16) (206,-0.24) (212,-0.24) (219,-0.16) (235,-0.1) (255,0) (275,0) (290,0) (305,-0.05) (320,0) (335,-0.1) (345,0) (352,0.05)};
\addplot[sD] coordinates {(80,1.85) (81.5,1.5) (83,1.3) (86.6,1.2) (90,1.3) (93.4,1.55) (96.8,1.85) (100,2.1) (102,1.7) (103.6,1.4) (107,1.1) (108.7,0.85) (110.4,0.6) (113.8,0.4) (117,0.35) (119,0.7) (120.6,0.9) (123,1.26) (125.7,0.55) (129,0.35) (131,0.1) (134,0.4) (138,0.26) (141,0.1) (144,0.26) (146,-0.16) (148,-0.3) (151,-0.6) (155,-0.7) (158,-0.95) (161,-1.0) (165,-0.7) (168,-0.9) (172,-0.66) (175,-0.7) (178,-0.75) (182,-0.7) (185,-0.9) (189,-0.95) (192,-0.9) (195,-0.95) (199,-1.1) (202,-0.95) (206,-0.8) (209,-0.66) (212,-0.6) (216,-0.5) (219,-0.5) (221,-0.55) (231,-0.3) (238,0) (251,0) (268,-0.16) (278,0.05) (288,0.1) (301,0.2) (314,0.2) (324,0.1) (331,0.33)};
\addplot[sE] coordinates {(-10,0.05) (-8.5,1.3) (-7,1.7) (-6,1.3) (-5,1.1) (-3.4,1.05) (-1.7,0.9) (1.7,0.84) (5,0.76) (8.5,0.6) (10,0.55) (12,0.26) (13.6,0.55) (15.3,0.7) (18.7,0.84) (20.4,1.0) (22,0.4) (25.5,0.48) (29,0.55) (32,0.55) (35.7,0.7) (39,0.9) (41.6,1.6) (42.5,0.98) (44,1.05) (46,0.7) (47.6,0.4) (49,0.2) (51,-0.16) (53,-0.24) (56,-0.16) (58,-0.24) (59.5,-0.45) (61,-0.75) (63,-1.0) (64.6,-1.3) (66,-1.45) (68,-1.6) (69.7,-1.75) (71.4,-1.45) (73,-1.0) (75,-0.75) (76.5,-0.66) (80,-0.6) (83,-0.8) (86.6,-0.9) (90,-0.8) (93.4,-0.75) (95,0.4) (96.8,0.6) (100,0.55) (103.6,0.4) (105,0.4) (107,-0.16) (110,-0.3) (114,0.1) (117,0.26) (119,0.7) (120.6,0.7) (124,0.26) (127,0.1) (131,-0.16) (134,-0.45) (138,-0.45) (141,-0.3) (144,-0.3) (146,-0.6) (148,-0.75) (151,-0.45) (155,-0.45) (158,-0.45) (161,-0.45) (165,-0.6) (168,-0.38) (172,-0.45) (175,-0.3) (178,-0.3) (182,-0.38) (185,-0.45) (189,-0.45) (192,-0.38) (195,-0.3) (199,-0.38) (202,-0.3) (206,-0.3) (212,-0.3) (219,-0.3) (221,-0.3) (235,-0.16) (251,0) (268,0.05) (284,0.1) (301,0.2) (318,0.1) (328,0.05) (331,0)};
\addplot[sF] coordinates {(-11,-0.1) (-5,-0.1) (2,-0.1) (8.5,0) (12,0.05) (15,0) (19,0) (25.5,0) (32,0.02) (39,0.05) (46,0.05) (53,0.02) (59.5,0) (63,0.02) (66,0.12) (70,0.2) (73,0.26) (76.5,0.23) (80,0.12) (83,0.05) (87,0.12) (90,0) (93,0.05) (97,0.05) (100,0.05) (104,0.12) (105,0.2) (107,0.05) (114,0.05) (121,0.05) (127,0) (134,0) (141,-0.1) (144,-0.16) (148,-0.24) (149.5,0.05) (153,0.2) (155,0.12) (158,0.05) (161,0) (165,0) (172,0) (178,0.05) (185,0.12) (192,0.2) (195,0.4) (199,0.5) (202,0.55) (206,0.55) (209,0.48) (212,0.4) (216,0.26) (219,0.2) (221,0.12) (235,0) (245,0.05) (255,-0.16) (264,-0.24) (268,-0.3) (275,-0.16) (284,0) (294,0.05) (308,0.05) (321,0.05) (331,0) (341,-0.05) (354,-0.05)};
\addplot[zl] coordinates {(-15,0) (419,0)};
\node[font=\fs, xshift=13.7pt, yshift=-13.7pt] at (rel axis cs:0,1) {(e)};
\legend{W3 320 m, W3 460 m, W3 660 m}
\end{axis}
%% (f)
\begin{axis}[panel, rowE, at={(339.97pt,43.77pt)}, anchor=south west,
  yticklabels={},
  xticklabels={10,11,12,01,02,03,04,05,06,07,08,09,10,11},
  xlabel={months (2018--19)},
  legend style={at={(axis description cs:0.5417,0.7525)}}]
\addplot[sA, forget plot] coordinates {(-14.2,0.41) (-11.7,0.48) (-8.3,0.34) (-4.8,0.26) (-1.4,0.41) (2,0.48) (5.4,0.41) (8.8,0.48) (12.2,0.55) (15.6,0.48) (19,0.26) (20.7,-0.02) (22.4,0.26) (24.1,0.69) (25.8,0.84) (27.5,0.55) (29.2,0.41) (30.9,0.12) (32.6,0.12) (34.3,-0.16) (36,-0.45) (37.7,-0.74) (39.4,-0.59) (41.1,-0.24) (42.8,0.76) (44.5,0.91) (46.2,0.84) (47.9,0.98) (49.6,1.69) (51.3,0.55) (53,0.84) (54.7,1.26) (56.4,1.12) (58.1,1.55) (59.8,2.98) (61.5,2.69) (63.2,3.26) (64.9,3.41) (65.8,3.98) (67.5,4.55) (68.3,3.69) (70,2.91) (71.7,1.62) (73.4,1.12) (75.1,0.84) (76.8,1.05) (78.5,0.69) (80.2,0.55) (81.9,-0.02) (83.6,-1.24) (85.3,-1.45) (87,-1.59) (88.7,-1.74) (90.4,-2.09) (93.8,-2.24) (95.5,-2.38) (97.2,-2.16) (98.9,-1.74) (100.6,-1.66) (102.3,-1.31) (104,-1.24) (105.7,-1.16) (107.4,-1.02) (110.8,-0.74) (114.3,-0.52) (117.7,-0.38) (121.1,-0.31) (124.5,-0.38) (127.9,-0.31) (131.3,-0.59) (133,-0.95) (134.7,-0.31) (138.1,-0.24) (141.5,-0.31) (144.9,-0.45) (148.3,-0.31) (151.7,-0.16) (155.1,-0.02) (158.5,0.05) (161.9,0.12) (165.3,0.05) (168.7,0.05) (172.1,0.05) (180.6,-0.02) (189.1,-0.06) (197.6,-0.02) (206.1,-0.02) (219.7,-0.06) (230,-0.02) (250,0) (265,0.05) (280,0.1) (294,0.05) (303,-0.02) (309,0.12) (317,0.19) (323,0.26) (332,0.41) (338,0.48) (341,0.26) (346,-0.16) (352,-0.31) (358,-0.74) (362,-0.95) (365,-1.31) (368,-0.88) (372.5,-0.31) (378,0.12) (381,0.26) (387,0.41) (393,0.84) (396,1.41) (399,0.91) (404.5,0.76) (410,0.62) (413,2.05) (416,2.26) (419,2.2)};
\addplot[sB, forget plot] coordinates {(-14.2,0.12) (-11.7,0.26) (-8.3,0.41) (-4.8,0.26) (-1.4,0.19) (2,0.19) (5.4,0.26) (8.8,0.41) (12.2,0.48) (13.9,0.41) (15.6,0.12) (17.3,-0.16) (19,-0.31) (20.7,-0.02) (22.4,0.26) (24.1,0.34) (25.8,0.26) (27.5,0.12) (29.2,0.26) (30.9,0.12) (32.6,-0.02) (34.3,-0.66) (36,-1.31) (37.7,-1.95) (39.4,-1.52) (41.1,-0.74) (42.8,-0.59) (46.2,-0.59) (49.6,-0.59) (51.3,-0.45) (53,-0.88) (54.7,-0.31) (56.4,-0.02) (59.8,0.19) (63.2,0.12) (66.6,-0.02) (70,-0.02) (73.4,0.05) (76.8,-0.02) (80.2,-0.09) (81.9,-0.31) (83.6,-0.74) (85.3,-0.88) (87,-0.88) (90.4,-0.66) (93.8,-0.74) (97.2,-0.59) (100.6,-0.59) (104,-0.38) (105.7,-0.81) (107.4,-0.88) (110.8,-0.59) (114.3,-0.45) (117.7,-0.45) (121.1,-0.45) (124.5,-0.45) (126.2,-0.74) (127.9,-0.59) (129.6,-0.74) (131.3,-0.88) (133,-1.16) (134.7,-0.81) (136.4,-0.31) (138.1,-0.16) (141.5,-0.31) (144.9,-0.24) (148.3,-0.16) (151.7,-0.09) (155.1,0.12) (158.5,0.34) (161.9,0.34) (165.3,0.26) (168.7,0.12) (172.1,0.12) (180.6,0.05) (189.1,-0.02) (197.6,0.01) (206.1,-0.02) (219.7,-0.02) (235,-0.02) (260,0.05) (280,0.05) (290,-0.1) (297,-0.2) (301,-0.35) (305,0.3) (309,0.45) (314.5,0.55) (320,0.69) (326,0.84) (332,0.98) (336,1.48) (339,1.12) (343.5,0.41) (349,-0.02) (355,0.26) (361,0.41) (365,0.12) (370,-0.02) (375,-0.02) (381,0.12) (387,0.26) (393,0.12) (399,0.19) (404.5,0.12) (410,0.12) (419,0.26)};
\addplot[sC, forget plot] coordinates {(-14.2,-0.02) (-8.3,0.12) (-1.4,0.19) (5.4,0.26) (10.5,0.41) (13.9,0.55) (17.3,0.62) (20.7,0.62) (24.1,0.55) (27.5,0.48) (30.9,0.55) (32.6,0.69) (34.3,0.62) (36,0.55) (39.4,0.55) (46.2,0.55) (49.6,0.55) (53,0.48) (56.4,0.26) (59.8,0.12) (63.2,0.12) (66.6,0.19) (70,0.19) (73.4,0.12) (76.8,0.05) (80.2,0.05) (83.6,0.12) (87,0.12) (90.4,0.19) (97.2,0.19) (100.6,0.26) (104,0.48) (107.4,0.55) (110.8,0.62) (114.3,0.69) (117.7,0.69) (121.1,0.84) (124.5,0.84) (127.9,1.05) (131.3,1.41) (134.7,1.55) (136.4,1.41) (138.1,1.26) (141.5,0.69) (144.9,0.41) (148.3,0.26) (151.7,0.05) (155.1,-0.02) (158.5,0.12) (161.9,0.26) (165.3,0.34) (168.7,0.34) (172.1,0.34) (175.5,0.26) (178.9,0.19) (182.3,0.12) (185.7,0.05) (189.1,0.01) (197.6,-0.02) (206.1,-0.06) (219.7,-0.13) (235,-0.1) (260,-0.05) (285,0) (300,0.05) (315,0.1) (330,0.2) (345,0.4) (355,0.45) (361,0.55) (368,0.35) (375,0.2) (385,0.05) (395,0) (410,0) (419,0)};
\addplot[sD] coordinates {(96.4,-0.74) (98.1,-0.66) (100.6,-0.59) (102.3,-0.45) (104,-0.31) (107.4,-0.16) (110.8,0.12) (114.3,0.19) (117.7,0.34) (121.1,0.26) (124.5,0.34) (127.9,0.34) (131.3,0.26) (134.7,0.12) (138.1,0.05) (141.5,-0.09) (144.9,-0.16) (148.3,-0.09) (151.7,-0.02) (155.1,-0.02) (165,0) (175,-0.02) (190,0) (205,0.01) (219.7,-0.02) (240,-0.05) (260,-0.07) (275,-0.05) (285,0.05) (294,0.12) (303,0.19) (312,0.26) (320,0.3) (330,0.2) (341,0) (346,-0.3) (352,-0.6) (358,-0.95) (364,-1.16) (370,-0.95) (375,-0.45) (381,0) (387,0.05)};
\addplot[sE] coordinates {(-15,0.76) (-13.4,1.69) (-11.7,1.91) (-10,1.84) (-8.3,1.98) (-6.6,2.05) (-4.8,1.91) (-3.1,2.26) (-1.4,1.98) (0.3,2.19) (2,2.34) (3.7,2.41) (5.4,2.48) (7.1,2.19) (8.8,2.55) (10.5,2.84) (12.2,2.62) (13.9,2.76) (15.6,2.69) (17.3,1.69) (19,1.62) (20.7,1.76) (22.4,1.62) (24.1,1.76) (25.8,1.41) (27.5,1.26) (29.2,1.05) (30.9,0.48) (32.6,0.34) (34.3,0.34) (36,0.26) (37.7,-0.09) (39.4,-0.16) (41.1,-0.09) (42.8,0.05) (44.5,-0.09) (46.2,-0.16) (47.9,0.12) (49.6,-0.16) (51.3,-0.31) (53,0.41) (54.7,0.48) (56.4,0.48) (59.8,0.48) (63.2,0.48) (64.9,0.48) (66.6,1.05) (68.3,0.76) (70,0.62) (71.7,0.55) (73.4,0.55) (76.8,0.55) (78.5,0.41) (80.2,0.34) (81.9,-0.24) (83.6,-0.59) (85.3,-0.74) (87,-0.52) (88.7,-0.16) (90.4,0.05) (93.8,-0.09) (97.2,-0.16) (100.6,-0.16) (104,0.19) (105.7,0.69) (107.4,0.69) (110.8,0.91) (114.3,0.98) (117.7,0.69) (121.1,0.69) (124.5,0.62) (127.9,0.69) (131.3,0.84) (134.7,0.98) (136.4,0.26) (138.1,-0.31) (139.8,-0.74) (141.5,-0.45) (144.9,-0.31) (148.3,-0.16) (151.7,-0.09) (155.1,-0.16) (158.5,-0.09) (161.9,-0.02) (165.3,-0.02) (180,-0.02) (200,-0.02) (219.7,-0.06) (240,0.02) (260,0.05) (280,0) (294,0.12) (300,0.26) (306,0.55) (312,0.69) (317,0.84) (323,1.12) (329,1.33) (332,1.76) (335,1.48) (338,1.55) (341,1.33) (343.5,0.69) (346,0.05) (349,-0.16) (352,-0.45) (355,-0.74) (358,-1.02) (362,-1.16) (367,-0.95) (370,-0.88) (372.5,-0.45) (375,-0.02) (378,0.12) (381,0.19) (384,0.12) (387,-0.02)};
\addplot[sF] coordinates {(-15,-0.09) (-11.7,-0.16) (-8.3,-0.09) (-4.8,0.05) (-1.4,0.12) (2,0.19) (5.4,0.26) (8.8,0.34) (12.2,0.41) (13.9,0.48) (15.6,0.41) (19,0.34) (22.4,0.26) (24.1,0.12) (25.8,-0.02) (29.2,-0.31) (32.6,-0.45) (36,-0.59) (37.7,-0.74) (39.4,-0.74) (42.8,-0.66) (46.2,-0.59) (49.6,-0.59) (53,-0.59) (54.7,-0.45) (56.4,-0.38) (59.8,-0.31) (63.2,-0.24) (66.6,-0.09) (70,-0.02) (73.4,-0.02) (76.8,-0.09) (80.2,-0.16) (83.6,-0.24) (87,-0.31) (90.4,-0.31) (93.8,-0.31) (97.2,-0.24) (100.6,-0.24) (104,-0.16) (107.4,-0.02) (110.8,0.12) (114.3,0.19) (117.7,0.34) (121.1,0.41) (124.5,0.34) (127.9,0.34) (131.3,0.26) (133,0.41) (134.7,0.26) (136.4,-0.31) (138.1,-0.45) (141.5,-0.52) (144.9,-0.59) (148.3,-0.59) (151.7,-0.45) (155.1,-0.31) (158.5,-0.24) (161.9,-0.09) (165.3,-0.02) (172,0.01) (180,-0.02) (190,-0.02) (200,0.01) (219.7,-0.02) (240,0) (270,0.02) (300,-0.05) (315,0) (325,0.05) (335,0.25) (343,0.2) (350,0.1) (360,0.05) (370,0.1) (378,-0.05) (385,-0.1) (390,0.05)};
\addplot[zl] coordinates {(-15,0) (419,0)};
\node[font=\fs, xshift=13.7pt, yshift=-13.7pt] at (rel axis cs:0,1) {(f)};
\legend{E3 310 m, E3 510 m, E3 650 m}
\end{axis}
\end{tikzpicture}
\end{document}
